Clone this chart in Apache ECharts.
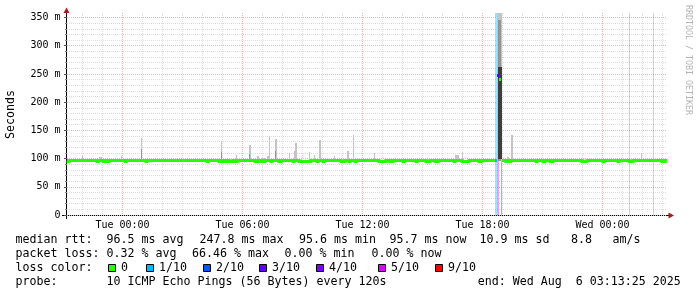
<!DOCTYPE html>
<html><head><meta charset="utf-8">
<script src="https://cdn.jsdelivr.net/npm/echarts@6/dist/echarts.min.js"></script>
<style>html,body{margin:0;padding:0;background:#fff}#c{width:697px;height:297px}</style>
</head><body><div id="c"></div><script>
// ---------------- data ----------------
const rangeStart = "Mon 21:13:25";
const rangeEnd = "Wed 03:13:25";
const yMaxMs = 358;
const xMajorTicks = ["Tue 00:00", "Tue 06:00", "Tue 12:00", "Tue 18:00", "Wed 00:00"];
const yTickValues = [0, 50, 100, 150, 200, 250, 300, 350];
const yTickLabels = ["0", "50 m", "100 m", "150 m", "200 m", "250 m", "300 m", "350 m"];
const lossLevels = [0, 1, 2, 3, 4, 5, 9];
const lossLabels = ["0", "1/10", "2/10", "3/10", "4/10", "5/10", "9/10"];
const lossColors = ["#26ff00", "#00b8ff", "#0059ff", "#5e00ff", "#7e00ff", "#dd00ff", "#ff0000"];

// median rtt: baseline value and the short dips below it [start, minutes, ms]
const medianBaseMs = 96.5;
const medianDips = [
  ["Mon 21:16:30", 3, 94], ["Mon 22:44:30", 3, 94], ["Mon 23:00:30", 3, 94], ["Mon 23:14:30", 6, 94],
  ["Tue 00:08:30", 3, 94], ["Tue 01:10:30", 3, 94], ["Tue 04:12:30", 3, 94], ["Tue 04:48:30", 6, 94],
  ["Tue 05:02:30", 3, 94], ["Tue 05:11:30", 3, 94], ["Tue 05:20:30", 12, 94], ["Tue 05:34:30", 9, 94],
  ["Tue 06:38:30", 6, 94], ["Tue 06:52:30", 3, 94], ["Tue 07:04:30", 3, 94], ["Tue 07:25:30", 3, 94],
  ["Tue 07:49:30", 6, 94], ["Tue 08:31:30", 3, 94], ["Tue 08:49:30", 36, 94], ["Tue 09:43:30", 3, 94],
  ["Tue 10:01:30", 3, 94], ["Tue 10:55:30", 12, 94], ["Tue 11:19:30", 3, 94], ["Tue 11:37:30", 3, 94],
  ["Tue 12:49:30", 21, 94], ["Tue 13:22:30", 9, 94], ["Tue 14:01:30", 3, 94], ["Tue 14:40:30", 3, 94],
  ["Tue 15:10:30", 12, 94], ["Tue 15:37:30", 9, 94], ["Tue 16:34:30", 3, 94], ["Tue 16:58:30", 21, 94],
  ["Tue 17:49:30", 6, 94], ["Tue 19:10:30", 3, 94], ["Tue 19:16:30", 9, 94], ["Tue 20:40:30", 3, 94],
  ["Tue 21:01:30", 6, 94], ["Tue 21:22:30", 9, 94], ["Tue 22:57:30", 15, 94], ["Wed 00:01:30", 3, 94],
  ["Wed 00:46:30", 3, 94], ["Wed 01:19:30", 12, 94], ["Wed 02:58:30", 9, 94]
];
// median during the outage [start, minutes, ms, loss level]
const medianEvent = [
  ["Tue 18:37:30", 6, 97, 1], ["Tue 18:43:30", 6, 248, 3],
  ["Tue 18:49:30", 6, 241, 0], ["Tue 18:55:30", 3, 160, 4]
];
// smoke (ping spread) [start, minutes, low ms, high ms, shade]
const smoke = [
  ["Mon 21:57:00", 3, 97, 106, "l"], ["Mon 22:49:30", 9, 97, 102, "l"], ["Mon 23:55:30", 3, 97, 105, "l"],
  ["Tue 00:55:30", 3, 97, 137, "l"], ["Tue 00:55:30", 3, 97, 117, "m"],
  ["Tue 04:55:30", 3, 97, 131, "l"], ["Tue 04:55:30", 3, 97, 112, "m"],
  ["Tue 05:39:30", 5, 97, 107, "l"], ["Tue 06:19:30", 5, 97, 124, "l"], ["Tue 06:19:30", 3, 97, 108, "m"],
  ["Tue 06:42:30", 6, 97, 105, "l"], ["Tue 06:58:30", 9, 97, 101, "l"], ["Tue 07:13:30", 6, 97, 104, "l"],
  ["Tue 07:19:30", 3, 97, 140, "l"], ["Tue 07:37:30", 6, 97, 135, "l"], ["Tue 07:37:30", 3, 97, 114, "m"],
  ["Tue 07:55:30", 3, 97, 101, "l"], ["Tue 08:19:30", 3, 97, 110, "l"], ["Tue 08:34:30", 3, 97, 114, "l"],
  ["Tue 08:37:30", 5, 97, 128, "l"], ["Tue 08:55:30", 3, 97, 101, "l"], ["Tue 09:19:30", 3, 97, 112, "l"],
  ["Tue 09:34:30", 3, 97, 106, "l"], ["Tue 09:49:30", 6, 97, 133, "l"], ["Tue 10:01:30", 6, 97, 100, "l"],
  ["Tue 10:34:30", 3, 97, 104, "l"], ["Tue 11:01:30", 8, 97, 100, "l"], ["Tue 11:13:30", 6, 97, 114, "l"],
  ["Tue 11:31:30", 3, 97, 141, "l"], ["Tue 12:34:30", 3, 97, 109, "l"], ["Tue 16:37:30", 12, 97, 106, "l"],
  ["Tue 16:58:30", 3, 97, 112, "l"], ["Tue 19:13:30", 6, 97, 103, "l"], ["Tue 19:25:30", 6, 97, 141, "l"],
  ["Tue 22:10:30", 3, 97, 100, "l"], ["Wed 01:55:30", 3, 97, 109, "l"],
  ["Tue 18:43:30", 15, 96, 358, "l"], ["Tue 18:46:30", 9, 96, 345, "m"], ["Tue 18:46:30", 12, 100, 262, "d"]
];
// packet-loss background bars [start, minutes, loss level]
const lossBars = [
  ["Tue 18:37:30", 6, 1], ["Tue 18:43:30", 6, 5], ["Tue 18:55:30", 3, 4],
  ["Wed 01:19:30", 3, 1], ["Wed 02:31:30", 3, 1]
];
// legend / statistics text [text, x]
const statsLine1 = [["median rtt:", 15.5], ["96.5 ms avg", 106.5], ["247.8 ms max", 199.5], ["95.6 ms min", 299],
  ["95.7 ms now", 389.5], ["10.9 ms sd", 479.5], ["8.8", 571], ["am/s", 612.5]];
const statsLine2 = [["packet loss:", 15.5], ["0.32 % avg", 106.5], ["66.46 % max", 192], ["0.00 % min", 284.5], ["0.00 % now", 371.5]];
const statsLine3 = [["loss color:", 15.5]];
const statsLine4 = [["probe:", 15.5], ["10 ICMP Echo Pings (56 Bytes) every 120s", 106.5], ["end: Wed Aug  6 03:13:25 2025", 477.8]];
const legendBoxX = [108.5, 146.5, 203.5, 259.5, 316.5, 378.5, 435.5];
const yAxisTitle = "Seconds";
const watermark = "RRDTOOL / TOBI OETIKER";

// ---------------- helpers ----------------
const dayOffset = { Mon: -1440, Tue: 0, Wed: 1440 };
function parseT(s) {
  const p = s.slice(4).split(":").map(Number);
  return dayOffset[s.slice(0, 3)] + p[0] * 60 + p[1] + (p[2] || 0) / 60;
}
const tMin = parseT(rangeStart), tMax = parseT(rangeEnd);
const majorVals = xMajorTicks.map(parseT);
const minorVals = [];
for (let h = Math.ceil(tMin / 60) * 60; h <= tMax; h += 60) if (majorVals.indexOf(h) < 0) minorVals.push(h);
const yMinorVals = [];
for (let v = 10; v < 355; v += 10) if (v % 50 !== 0) yMinorVals.push(v);

function rgba(hex, a) {
  const n = parseInt(hex.slice(1), 16);
  return `rgba(${n >> 16},${(n >> 8) & 255},${n & 255},${a})`;
}
const lossColor = lv => lossColors[lossLevels.indexOf(lv)];

// median steps
const segs = medianDips.map(d => ({ t0: parseT(d[0]), t1: parseT(d[0]) + d[1], v: d[2], loss: 0 }))
  .concat(medianEvent.map(d => ({ t0: parseT(d[0]), t1: parseT(d[0]) + d[1], v: d[2], loss: d[3] })))
  .sort((a, b) => a.t0 - b.t0);
const steps = [];
let cur = tMin;
segs.forEach(s => {
  if (s.t0 > cur) steps.push({ t0: cur, t1: s.t0, v: medianBaseMs, loss: 0 });
  steps.push(s); cur = s.t1;
});
if (cur < tMax) steps.push({ t0: cur, t1: tMax, v: medianBaseMs, loss: 0 });
const runs = [];
steps.forEach(s => {
  const last = runs[runs.length - 1];
  if (last && last[last.length - 1].loss === s.loss && Math.abs(last[last.length - 1].t1 - s.t0) < 1e-6) last.push(s);
  else runs.push([s]);
});

const smokeItems = smoke.map(d => ({ t0: parseT(d[0]), t1: parseT(d[0]) + d[1], lo: d[2], hi: Math.min(d[3], yMaxMs), shade: d[4] }));
const shadeColors = { l: "#c4c4c4", m: "#959595", d: "#3e3e3e" };
const lossBarItems = lossBars.map(d => ({ t0: parseT(d[0]), t1: parseT(d[0]) + d[1], lv: d[2] }));

const mono = '"DejaVu Sans Mono", monospace';
const snap = v => Math.round(v - 0.5) + 0.5;

// ---------------- chart ----------------
const chart = echarts.init(document.getElementById("c"), null, { renderer: "canvas" });
const graphics = [];
function addText(s, x, y, size, color, extra) {
  graphics.push(Object.assign({ type: "text", x: x, y: y, silent: true,
    style: { text: s, font: size + "px " + mono, fill: color, align: "left", textAlign: "left", verticalAlign: "middle", textVerticalAlign: "middle" } }, extra || {}));
}
[[statsLine1, 240.3], [statsLine2, 254.3], [statsLine3, 268.3], [statsLine4, 282.3]].forEach(([line, y]) => {
  line.forEach(([s, x]) => addText(s, x, y, 11.63, "#000"));
});
legendBoxX.forEach((x, i) => {
  graphics.push({ type: "rect", silent: true, shape: { x: x, y: 264.5, width: 7, height: 7 }, style: { fill: lossColors[i], stroke: "#000", lineWidth: 1 } });
  addText(lossLabels[i], x + 12.5, 268.3, 11.63, "#000");
});
// axis lines & arrows
graphics.push({ type: "line", silent: true, shape: { x1: 62, y1: 215.5, x2: 670, y2: 215.5 }, style: { stroke: "#000", lineWidth: 1 } });
graphics.push({ type: "line", silent: true, shape: { x1: 66.5, y1: 219, x2: 66.5, y2: 11 }, style: { stroke: "#000", lineWidth: 1 } });
graphics.push({ type: "polygon", silent: true, shape: { points: [[66.5, 7.5], [63.5, 13], [69.5, 13]] }, style: { fill: "#a51c1c" } });
graphics.push({ type: "polygon", silent: true, shape: { points: [[674, 215.5], [668.5, 212.5], [668.5, 218.5]] }, style: { fill: "#a51c1c" } });
addText(yAxisTitle, 11, 114.5, 11.63, "#000", { rotation: Math.PI / 2, style: { text: yAxisTitle, font: "11.63px " + mono, fill: "#000", align: "center", textAlign: "center", verticalAlign: "middle", textVerticalAlign: "middle" } });
addText(watermark, 688, 60, 8.3, "#b4b4b4", { rotation: -Math.PI / 2, style: { text: watermark, font: "8.3px " + mono, fill: "#b4b4b4", align: "center", textAlign: "center", verticalAlign: "middle", textVerticalAlign: "middle" } });

const majorColor = "#ebb4b4", minorColor = "#dcdcdc";
const option = {
  animation: false,
  backgroundColor: "#fff",
  grid: { left: 67, right: 30, top: 13, bottom: 82, containLabel: false },
  xAxis: [{
    type: "value", min: tMin, max: tMax,
    axisLine: { show: false, onZero: false },
    axisTick: { show: false, customValues: majorVals },
    axisLabel: { customValues: majorVals, formatter: v => xMajorTicks[majorVals.indexOf(v)] || "",
      fontFamily: mono, fontSize: 10, color: "#000", margin: 10, verticalAlign: "middle" },
    splitLine: { show: true, lineStyle: { color: majorColor, width: 1, type: [1, 1] } }
  }, {
    type: "value", min: tMin, max: tMax, position: "bottom",
    axisLine: { show: false, onZero: false },
    axisTick: { show: false, customValues: minorVals },
    axisLabel: { show: false },
    splitLine: { show: true, lineStyle: { color: minorColor, width: 1, type: [1, 1] } }
  }],
  yAxis: [{
    type: "value", min: 0, max: yMaxMs, position: "left",
    axisLine: { show: false, onZero: false },
    axisTick: { show: true, length: 3, customValues: yTickValues, lineStyle: { color: "#555" } },
    axisLabel: { customValues: yTickValues, formatter: v => yTickLabels[yTickValues.indexOf(v)],
      fontFamily: mono, fontSize: 10, color: "#000", margin: 6.5 },
    splitLine: { show: true, lineStyle: { color: majorColor, width: 1, type: [1, 1] } }
  }, {
    type: "value", min: 0, max: yMaxMs, position: "left", offset: 0,
    axisLine: { show: false, onZero: false },
    axisTick: { show: true, length: 2, customValues: yMinorVals, lineStyle: { color: "#888" } },
    axisLabel: { show: false },
    splitLine: { show: true, lineStyle: { color: minorColor, width: 1, type: [1, 1] } }
  }],
  series: [{
    type: "custom", name: "loss", z: 3, silent: true,
    data: lossBarItems.map(b => [b.t0, 0]),
    encode: { x: 0, y: 1 },
    renderItem: (p, api) => {
      const b = lossBarItems[p.dataIndex];
      const a0 = api.coord([b.t0, 0]), a1 = api.coord([b.t1, yMaxMs]);
      const x0 = Math.round(a0[0]), x1 = Math.max(x0 + 1, Math.round(a1[0]));
      return { type: "rect", shape: { x: x0, y: a1[1], width: x1 - x0, height: a0[1] - a1[1] },
        style: { fill: rgba(lossColor(b.lv), 0.38) } };
    }
  }, {
    type: "custom", name: "smoke", z: 4, silent: true,
    data: smokeItems.map(s => [s.t0, s.hi]),
    encode: { x: 0, y: 1 },
    renderItem: (p, api) => {
      const s = smokeItems[p.dataIndex];
      const a = api.coord([s.t0, s.lo]), b = api.coord([s.t1, s.hi]);
      const x0 = Math.round(a[0]), x1 = Math.max(x0 + 1, Math.round(b[0]));
      const yTop = Math.round(b[1]), yBot = Math.round(a[1]);
      return { type: "rect", shape: { x: x0, y: yTop, width: x1 - x0, height: yBot - yTop },
        style: { fill: shadeColors[s.shade] } };
    }
  }, {
    type: "custom", name: "median", z: 5, silent: true,
    data: runs.map(r => [r[0].t0, r[0].v]),
    encode: { x: 0, y: 1 },
    renderItem: (p, api) => {
      const run = runs[p.dataIndex];
      const pts = [];
      run.forEach(s => {
        const a = api.coord([s.t0, s.v]), b = api.coord([s.t1, s.v]);
        pts.push([Math.round(a[0]), snap(a[1])], [Math.round(b[0]), snap(b[1])]);
      });
      return { type: "polyline", shape: { points: pts },
        style: { stroke: lossColor(run[0].loss), lineWidth: 3, fill: null, lineJoin: "miter", lineCap: "butt" } };
    }
  }],
  graphic: graphics
};
chart.setOption(option);
</script></body></html>
